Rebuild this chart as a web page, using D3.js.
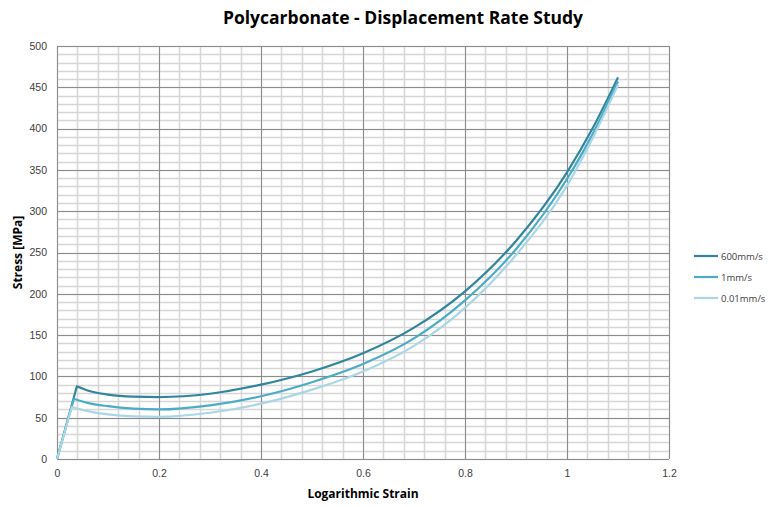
<!DOCTYPE html>
<html>
<head>
<meta charset="utf-8">
<script src="https://cdn.jsdelivr.net/npm/d3@7"></script>
<style>
  body { margin: 0; background: #fff; }
  svg { font-family: "Open Sans", "Noto Sans", sans-serif; }
</style>
</head>
<body>
<svg id="chart" width="774" height="507"></svg>
<script>
// strain values
const strain = [0, 0.035, 0.06, 0.1, 0.15, 0.2, 0.3, 0.4, 0.5, 0.6, 0.7, 0.8, 0.9, 1.0, 1.05, 1.1];

const stress600 = [0, 88, 83, 78, 75.5, 75, 79, 90, 106, 128, 159, 203, 264, 347, 400, 462];
const stress1 = [0, 73, 68, 64, 61, 60, 65, 76, 93, 115, 146, 192, 254, 339, 393, 457];
const stress001 = [0, 63, 58, 54, 51.5, 51, 56, 67, 84, 106, 137, 183, 247, 331, 388, 453];
// peak strain differs a bit per rate
const peakStrain = [0.039, 0.033, 0.029];

const seriesNames = ["600mm/s", "1mm/s", "0.01mm/s"];
const seriesColors = ["#31859c", "#4bacc6", "#abd6e4"];

const xTicks = [0, 0.2, 0.4, 0.6, 0.8, 1, 1.2];
const yTicks = [0, 50, 100, 150, 200, 250, 300, 350, 400, 450, 500];

const svg = d3.select("#chart");
const margin = { top: 46, right: 105, bottom: 48, left: 57 };
const width = 774 - margin.left - margin.right;
const height = 507 - margin.top - margin.bottom;

const x = d3.scaleLinear().domain([0, 1.2]).range([0, width]);
const y = d3.scaleLinear().domain([0, 500]).range([height, 0]);

const g = svg.append("g").attr("transform", `translate(${margin.left},${margin.top})`);

// minor grid
g.append("g").selectAll("line")
  .data(d3.range(0, 1.2001, 0.04))
  .join("line")
  .attr("x1", d => Math.round(x(d)) + 0.5).attr("x2", d => Math.round(x(d)) + 0.5)
  .attr("y1", 0).attr("y2", height)
  .attr("stroke", "#d6d6d6").attr("stroke-width", 1.5);

g.append("g").selectAll("line")
  .data(d3.range(0, 500.1, 10))
  .join("line")
  .attr("y1", d => Math.round(y(d)) + 0.5).attr("y2", d => Math.round(y(d)) + 0.5)
  .attr("x1", 0).attr("x2", width)
  .attr("stroke", "#d6d6d6").attr("stroke-width", 1.5);

// major grid
g.append("g").selectAll("line")
  .data(xTicks)
  .join("line")
  .attr("x1", d => Math.round(x(d)) + 0.5).attr("x2", d => Math.round(x(d)) + 0.5)
  .attr("y1", 0).attr("y2", height)
  .attr("stroke", "#8c8c8c").attr("stroke-width", 1);

g.append("g").selectAll("line")
  .data(yTicks)
  .join("line")
  .attr("y1", d => Math.round(y(d)) + 0.5).attr("y2", d => Math.round(y(d)) + 0.5)
  .attr("x1", 0).attr("x2", width)
  .attr("stroke", "#8c8c8c").attr("stroke-width", 1);

// axes labels (no domain lines, grid does the job)
const xAxis = g.append("g")
  .attr("transform", `translate(0,${height})`)
  .call(d3.axisBottom(x).tickValues(xTicks).tickSize(0).tickPadding(11).tickFormat(d3.format("~g")));
xAxis.select(".domain").remove();

const yAxis = g.append("g")
  .call(d3.axisLeft(y).tickValues(yTicks).tickSize(0).tickPadding(10));
yAxis.select(".domain").remove();

svg.selectAll(".tick text").attr("fill", "#404040").style("font-size", "10.5px");

// curves
const allStress = [stress600, stress1, stress001];
const line = d3.line()
  .x(d => x(d[0]))
  .y(d => y(d[1]));

allStress.forEach((vals, i) => {
  const pts = strain.map((s, j) => [j === 1 ? peakStrain[i] : s, vals[j]]);
  const rise = pts.slice(0, 2);
  const rest = pts.slice(1);
  const path = line.curve(d3.curveLinear)(rise) +
    line.curve(d3.curveMonotoneX)(rest).replace(/^M/, "L");
  g.append("path")
    .attr("d", path)
    .attr("fill", "none")
    .attr("stroke", seriesColors[i])
    .attr("stroke-width", 2.2)
    .attr("stroke-linejoin", "round");
});

// title
svg.append("text")
  .attr("x", 403).attr("y", 24)
  .attr("text-anchor", "middle")
  .style("font-size", "17.5px").style("font-weight", "bold")
  .attr("fill", "#000")
  .text("Polycarbonate - Displacement Rate Study");

svg.append("text")
  .attr("x", margin.left + x(0.6)).attr("y", 498)
  .attr("text-anchor", "middle")
  .style("font-size", "12px").style("font-weight", "bold")
  .text("Logarithmic Strain");

svg.append("text")
  .attr("transform", `translate(22,${margin.top + y(250)}) rotate(-90)`)
  .attr("text-anchor", "middle")
  .style("font-size", "12px").style("font-weight", "bold")
  .text("Stress [MPa]");

// legend
const legend = svg.append("g").attr("transform", "translate(694,256)");
seriesNames.forEach((name, i) => {
  const row = legend.append("g").attr("transform", `translate(0,${i * 21})`);
  row.append("line")
    .attr("x1", 0).attr("x2", 24)
    .attr("stroke", seriesColors[i]).attr("stroke-width", 2.2);
  row.append("text")
    .attr("x", 27).attr("y", 3.5)
    .style("font-size", "9.5px").attr("fill", "#404040")
    .text(name);
});
</script>
</body>
</html>
